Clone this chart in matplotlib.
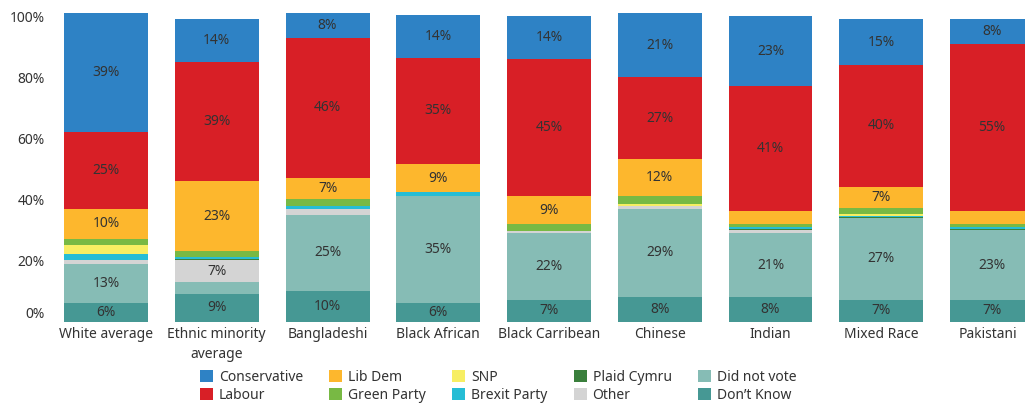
import matplotlib.pyplot as plt
from matplotlib.patches import Patch
import numpy as np

plt.rcParams['font.family'] = ['Noto Sans', 'DejaVu Sans']

groups = ["White average", "Ethnic minority\naverage", "Bangladeshi", "Black African",
          "Black Carribean", "Chinese", "Indian", "Mixed Race", "Pakistani"]

# share of each group (%), stacked bottom to top
dont_know    = [6, 9, 10, 6, 7, 8, 8, 7, 7]
did_not_vote = [13, 4, 25, 35, 22, 29, 21, 27, 23]
other        = [1, 7, 2, 0.3, 0.7, 1, 1, 0, 0]
plaid_cymru  = [0, 0.5, 0, 0, 0, 0, 0.3, 0.3, 0.3]
brexit_party = [2, 0.5, 1, 1.2, 0, 0, 0.8, 0.4, 0.8]
snp          = [3, 0, 0, 0, 0, 0.4, 0, 0.4, 0]
green_party  = [2, 2, 2, 0, 2.3, 2.7, 1, 2, 1]
lib_dem      = [10, 23, 7, 9, 9, 12, 4, 7, 4]
labour       = [25, 39, 46, 35, 45, 27, 41, 40, 55]
conservative = [39, 14, 8, 14, 14, 21, 23, 15, 8]

stack = [
    ("Don’t Know", dont_know, "#469894"),
    ("Did not vote", did_not_vote, "#86bcb5"),
    ("Other", other, "#d4d4d4"),
    ("Plaid Cymru", plaid_cymru, "#3a7f3c"),
    ("Brexit Party", brexit_party, "#26bdd5"),
    ("SNP", snp, "#f7ee63"),
    ("Green Party", green_party, "#78b944"),
    ("Lib Dem", lib_dem, "#fdb72d"),
    ("Labour", labour, "#d81f26"),
    ("Conservative", conservative, "#2e82c5"),
]

txt = "#333333"
fig = plt.figure(figsize=(10.25, 4.03), dpi=100)
ax = fig.add_axes([0.0488, 0.2022, 0.9512, 0.773])

x = np.arange(len(groups))
width = 0.758
bottom = np.zeros(len(groups))
colors = {}
for name, vals, col in stack:
    vals = np.array(vals, dtype=float)
    ax.bar(x, vals, width, bottom=bottom, color=col, linewidth=0)
    for xi, b, v in zip(x, bottom, vals):
        if v >= 5:
            ax.text(xi, b + v / 2, f"{v:.0f}%", ha="center", va="center",
                    fontsize=10, color=txt)
    bottom += vals
    colors[name] = col

ax.set_xlim(-0.506, 8.298)
ax.set_ylim(0, 102.1)

# last bar runs off the edge, so centre its label on the visible part
ticks = list(x.astype(float))
ticks[-1] = (8 - width / 2 + 8.298) / 2
ax.set_xticks(ticks)
ax.set_xticklabels(groups, fontsize=10, color=txt, multialignment="center",
                   linespacing=1.45)
ax.set_yticks([0, 20, 40, 60, 80, 100])
ax.set_yticklabels([f"{v}%" for v in [0, 20, 40, 60, 80, 100]], fontsize=10, color=txt)
ax.get_yticklabels()[0].set_va("bottom")
ax.tick_params(axis="both", length=0)
ax.tick_params(axis="x", pad=4)
ax.tick_params(axis="y", pad=4)
for s in ax.spines.values():
    s.set_visible(False)

order = ["Conservative", "Labour", "Lib Dem", "Green Party", "SNP", "Brexit Party",
         "Plaid Cymru", "Other", "Did not vote", "Don’t Know"]
handles = [Patch(facecolor=colors[n], label=n) for n in order]
fig.legend(handles=handles, ncol=5, loc="upper left", bbox_to_anchor=(0.195, 0.083),
           frameon=False, fontsize=10, handlelength=0.95, handleheight=0.95,
           handletextpad=0.4, columnspacing=1.9, labelspacing=0.25,
           borderpad=0, borderaxespad=0, labelcolor=txt)

fig.savefig("out.png", dpi=100)
